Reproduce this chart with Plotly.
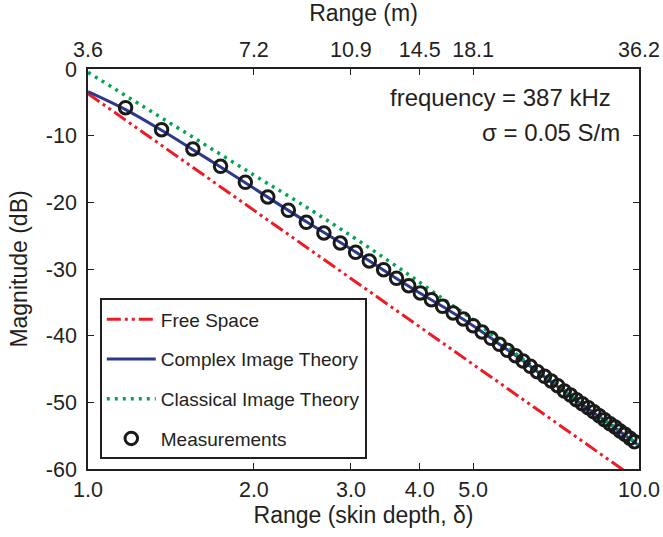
import plotly.graph_objects as go

# Range in skin depths (bottom axis), log scale
x_free = [1.0, 2.0, 3.0, 4.0, 5.0, 6.0, 7.0, 8.0, 9.0, 10.0]
y_free = [-3.7, -21.2, -31.4, -38.7, -44.3, -48.9, -52.8, -56.2, -59.1, -61.8]

x_cit = [1.0, 1.17, 1.36, 1.55, 1.74, 2.0, 2.5, 3.0, 3.5, 4.0, 4.5, 5.0, 5.5, 6.0, 7.0, 8.0, 9.0, 10.0]
y_cit = [-3.4, -6.1, -9.2, -12.1, -14.7, -17.9, -23.0, -27.0, -30.6, -33.6, -36.1, -38.5, -40.9, -43.1, -47.2, -50.7, -53.7, -56.5]

x_classic = [1.0, 1.5, 2.0, 2.5, 3.0, 3.5, 4.0, 4.5, 5.0, 5.5, 6.0, 7.0, 8.0, 9.0, 10.0]
y_classic = [-0.5, -9.5, -15.9, -20.8, -25.0, -28.7, -32.0, -35.0, -37.6, -40.3, -42.8, -47.0, -50.6, -53.6, -56.4]

x_meas = [1.17, 1.36, 1.55, 1.74, 1.93, 2.12, 2.31, 2.49, 2.68, 2.87, 3.06, 3.24, 3.44, 3.63,
          3.82, 4.01, 4.20, 4.40, 4.60, 4.80, 5.00, 5.19, 5.39, 5.58, 5.77, 5.97, 6.16, 6.35,
          6.54, 6.74, 6.93, 7.12, 7.32, 7.51, 7.70, 7.89, 8.09, 8.28, 8.47, 8.66, 8.86, 9.05,
          9.24, 9.43, 9.63, 9.82]
y_meas = [-5.8, -9.1, -12.0, -14.6, -17.0, -19.2, -21.2, -23.0, -24.6, -26.1, -27.5, -28.8, -30.1, -31.4,
          -32.5, -33.6, -34.6, -35.6, -36.6, -37.5, -38.5, -39.45, -40.4, -41.3, -42.2, -43.0, -43.8, -44.6,
          -45.4, -46.1, -46.8, -47.5, -48.3, -48.9, -49.6, -50.2, -50.8, -51.4, -52.0, -52.6, -53.2, -53.7,
          -54.3, -54.8, -55.4, -55.9]

bottom_ticks = [1, 2, 3, 4, 5, 10]
bottom_labels = ["1.0", "2.0", "3.0", "4.0", "5.0", "10.0"]
top_labels = ["3.6", "7.2", "10.9", "14.5", "18.1", "36.2"]
y_ticks = [0, -10, -20, -30, -40, -50, -60]
y_labels = ["0", "-10", "-20", "-30", "-40", "-50", "-60"]

FONT = "Liberation Sans, Arial, sans-serif"
TXT = "#231f20"

L, T, W, H = 87.5, 68.5, 551.5, 401  # plot area in window pixels


def px_to_paper(x, y):
    return (x - L) / W, (T + H - y) / H


fig = go.Figure()
fig.add_trace(go.Scatter(x=x_free, y=y_free, mode="lines", name="Free Space",
                         line=dict(color="#ed1c24", width=3, dash="14px,4px,3px,4px,3px,4px"),
                         legendgroup="a"))
fig.add_trace(go.Scatter(x=x_cit, y=y_cit, mode="lines", name="Complex Image Theory",
                         line=dict(color="#2b3990", width=3, shape="spline"), legendgroup="b"))
fig.add_trace(go.Scatter(x=x_classic, y=y_classic, mode="lines", name="Classical Image Theory",
                         line=dict(color="#00a651", width=3.5, dash="3px,5px", shape="spline"),
                         legendgroup="c"))
fig.add_trace(go.Scatter(x=x_meas, y=y_meas, mode="markers", name="Measurements",
                         marker=dict(symbol="circle-open", size=12.5, color="#1a1a1a",
                                     line=dict(width=3, color="#1a1a1a")),
                         legendgroup="d"))
# invisible trace to carry the top axis
fig.add_trace(go.Scatter(x=[1, 10], y=[0, 0], xaxis="x2", mode="lines",
                         line=dict(width=0), showlegend=False, hoverinfo="skip", opacity=0))

axis_common = dict(showline=True, linecolor="#231f20", linewidth=1.5, ticks="inside",
                   ticklen=6, tickwidth=1.2, tickcolor="#231f20", showgrid=False, zeroline=False,
                   automargin=False,
                   tickfont=dict(family=FONT, size=21.5, color=TXT))
title_font = dict(family=FONT, size=23, color=TXT)

fa, fb = px_to_paper(613, 96.7)
sa, sb = px_to_paper(621.5, 131.7)
lx, ly = px_to_paper(99.3, 298.5)

fig.update_layout(
    width=663, height=537,
    margin=dict(l=L, r=663 - L - W, t=T, b=537 - T - H, autoexpand=False),
    paper_bgcolor="white", plot_bgcolor="white",
    font=dict(family=FONT, color=TXT),
    xaxis=dict(type="log", range=[0, 1], tickvals=bottom_ticks, ticktext=bottom_labels,
               title=dict(text="Range (skin depth, δ)", font=title_font, standoff=4),
               **axis_common),
    xaxis2=dict(type="log", range=[0, 1], overlaying="x", side="top", tickvals=bottom_ticks,
                ticktext=top_labels, ticklabelstandoff=2,
                title=dict(text="Range (m)", font=title_font, standoff=10),
                **axis_common),
    yaxis=dict(range=[-60, 0], tickvals=y_ticks, ticktext=y_labels, mirror="ticks",
               ticklabelstandoff=5,
               title=dict(text="Magnitude (dB)", font=title_font, standoff=12),
               **axis_common),
    legend=dict(x=lx, y=ly, xanchor="left", yanchor="top",
                bordercolor="#231f20", borderwidth=2, bgcolor="white",
                font=dict(family=FONT, size=19, color=TXT),
                traceorder="grouped", tracegroupgap=12, itemwidth=49),
    showlegend=True,
    annotations=[
        dict(text="frequency = 387 kHz", x=fa, y=fb, xref="paper", yref="paper",
             showarrow=False, xanchor="right", yanchor="middle",
             font=dict(family=FONT, size=24, color=TXT)),
        dict(text="σ = 0.05 S/m", x=sa, y=sb, xref="paper", yref="paper",
             showarrow=False, xanchor="right", yanchor="middle",
             font=dict(family=FONT, size=24, color=TXT)),
    ],
)

fig.write_html("out.html", config={"displayModeBar": False},
               post_script="document.body.style.margin='0';document.body.style.overflow='hidden';")
